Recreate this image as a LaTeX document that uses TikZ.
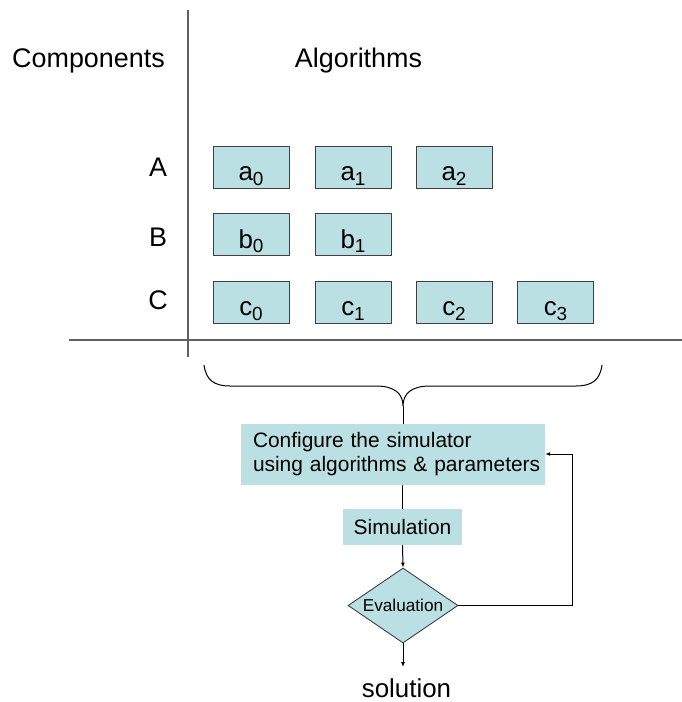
\documentclass[tikz,border=0pt]{standalone}
\usepackage{fontspec}
\setmainfont{Liberation Sans}
\usetikzlibrary{shapes.geometric,arrows.meta}
\definecolor{boxfill}{HTML}{BAE0E3}
\definecolor{axisgray}{HTML}{606060}
\definecolor{boxedge}{HTML}{404040}
\newcommand{\subidx}[1]{\raisebox{-4.5bp}{\fontsize{19}{20}\selectfont #1}}
\tikzset{
  big/.style={font=\fontsize{27}{30}\selectfont, inner sep=0pt, anchor=base},
  algbox/.style={draw=boxedge, line width=0.9bp, fill=boxfill, minimum width=76bp, minimum height=42bp, inner sep=0pt, text height=32bp, text depth=5bp, font=\fontsize{26}{30}\selectfont},
  flowbox/.style={fill=boxfill, inner sep=0pt},
  axis/.style={draw=axisgray, line width=1.3bp},
  conn/.style={draw=black, line width=1bp},
  arr/.style={conn, -{Latex[length=5bp,width=4bp]}},
}
\begin{document}
\begin{tikzpicture}[x=1bp,y=-1bp]
\useasboundingbox (0,0) rectangle (682,702);
% axes
\coordinate (vtop) at (188,10);
\coordinate (vbot) at (188,357);
\coordinate (hl) at (69,340);
\coordinate (hr) at (682,340);
\draw[axis] (vtop) -- (vbot);
\draw[axis] (hl) -- (hr);
% headings
\node[big] (comp) at (88.5,68) {Components};
\node[big] (alg) at (358.5,68) {Algorithms};
\node[big] (lA) at (158,176) {A};
\node[big] (lB) at (158,246) {B};
\node[big] (lC) at (158,309.5) {C};
% boxes
\node[algbox] (a0) at (251,167) {a\subidx{0}};
\node[algbox] (a1) at (353,167) {a\subidx{1}};
\node[algbox] (a2) at (454,167) {a\subidx{2}};
\node[algbox] (b0) at (251,234.5) {b\subidx{0}};
\node[algbox] (b1) at (353,234.5) {b\subidx{1}};
\node[algbox] (c0) at (251,302) {c\subidx{0}};
\node[algbox] (c1) at (353,302) {c\subidx{1}};
\node[algbox] (c2) at (454,302) {c\subidx{2}};
\node[algbox] (c3) at (555.5,302) {c\subidx{3}};
% flow
\node[flowbox, minimum width=304bp, minimum height=61bp, align=left, text width=280bp, font=\fontsize{21}{24}\selectfont] (cfg) at (393,454.5) {Configure the simulator\\\mbox{using algorithms \& parameters}};
\node[flowbox, minimum width=119bp, minimum height=36bp, font=\fontsize{21}{24}\selectfont] (sim) at (402.5,527) {Simulation};
\node[diamond, draw=boxedge, line width=0.9bp, fill=boxfill, minimum width=110bp, minimum height=75bp, inner sep=0pt, aspect=1.47, font=\fontsize{17.3}{20}\selectfont] (ev) at (403,605.5) {Evaluation};
\node[big, font=\fontsize{26}{30}\selectfont] (sol) at (406.5,697.5) {solution};
% brace
\coordinate (bl) at (204,365);
\coordinate (br) at (602,365);
\coordinate (tip) at (403,406);
\draw[conn] (bl) .. controls (206,380) and (214,386) .. (230,386) -- (376,386)
  .. controls (395,386) and (403,394) .. (tip)
  .. controls (403,394) and (411,386) .. (430,386) -- (576,386)
  .. controls (592,386) and (600,380) .. (br);
\draw[conn] (tip) -- (tip |- cfg.north);
% connectors
\draw[conn] (cfg.south -| sim) -- (sim.north);
\draw[arr] (sim.south) -- (ev.north);
\coordinate (loop) at (572,454);
\draw[arr] (ev.east) -| (loop) -- (cfg.east |- loop);
\coordinate (solend) at (403,667);
\draw[arr] (ev.south) -- (solend);
\end{tikzpicture}
\end{document}
